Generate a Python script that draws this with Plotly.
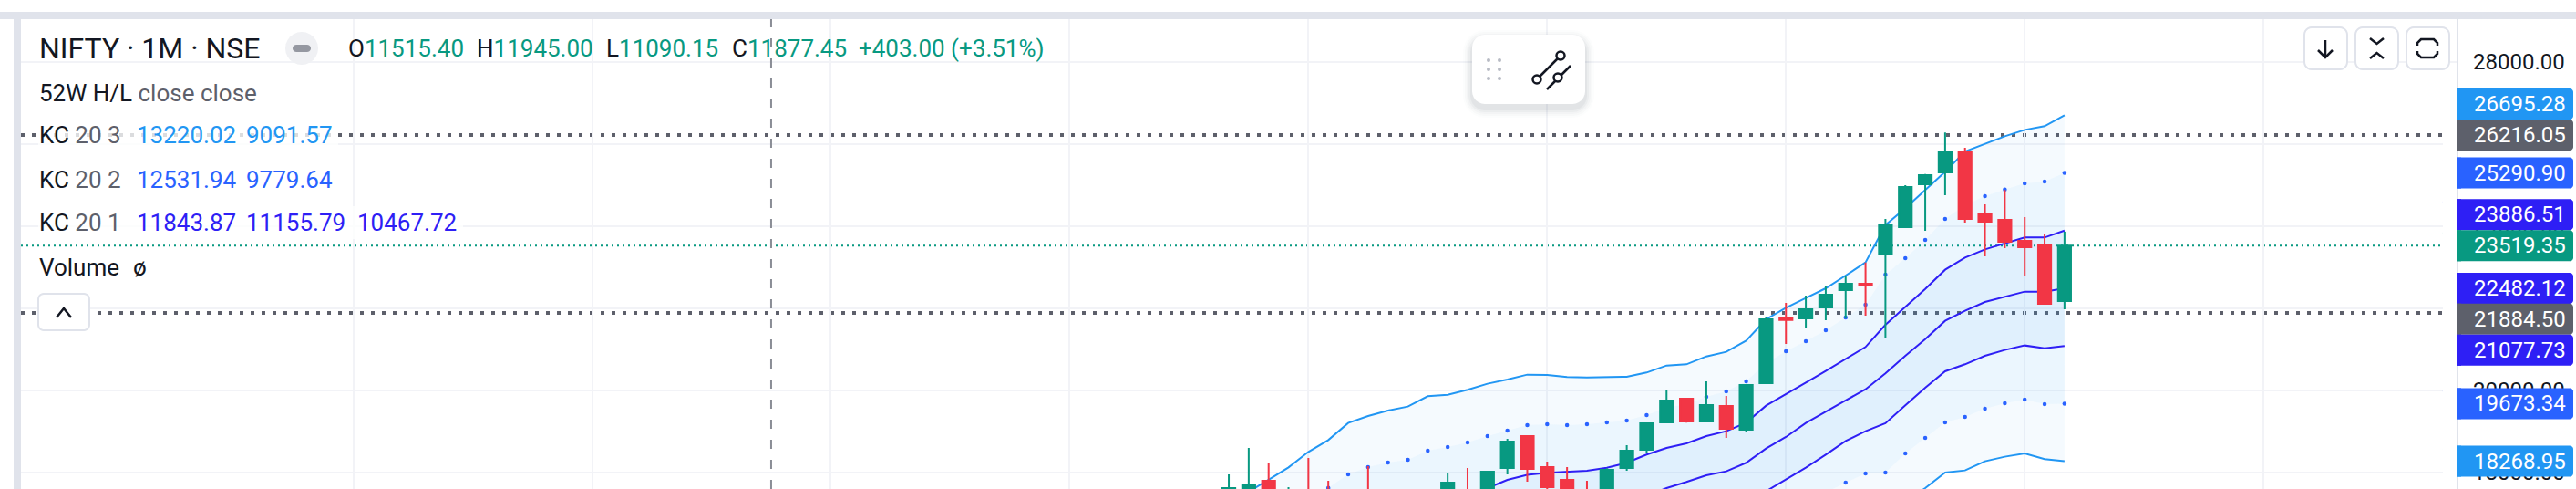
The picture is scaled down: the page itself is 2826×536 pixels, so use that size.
import math
import plotly.graph_objects as go

W, H = 2826, 536

# ---- data (prices) ----
opens = [17300,17400,17794,16900,17500,17400,17300,17500,17000,17100,17450,17200,17500,17400,18105,18883,18127,17816,17400,17500,18105,18549,19216,19794,19238,19616,19038,20171,21749,21749,22016,22438,22593,23305,23971,25015,25304,25793,24304,24149,23638,23527,22171]
highs = [17949,18593,18216,17638,18349,17794,17500,18149,17550,17580,17550,17994,18105,18016,18816,18883,18260,18127,17794,18097,18660,19194,19994,19794,20216,19860,20149,21793,22127,22304,22527,22793,23112,24171,24993,25267,26277,25904,24527,24875,24216,23816,23860]
lows = [17200,17250,17300,16800,17000,16950,16900,17050,16900,17000,17100,17100,17000,17300,17949,17771,17400,17300,17000,17400,18038,18460,19216,19208,19238,18838,18971,20171,21127,21527,21704,21749,21816,21282,23971,23882,24749,24082,23260,23460,22793,22105,21971]
closes = [17615,17683,17400,17200,17200,17100,17100,17250,17400,17450,17200,17749,17200,18016,18749,18083,17638,17500,17100,18060,18527,19194,19749,19238,19638,19060,20127,21727,21712,21971,22327,22593,22556,24016,24949,25238,25816,24171,24104,23616,23482,22105,23519.35]
kc3_upper = [17282,17527,17816,18119,18497,18786,19201,19371,19505,19601,19853,19890,20008,20157,20260,20379,20371,20319,20312,20327,20327,20430,20601,20630,20823,20934,21208,21727,22008,22245,22482,22793,23112,24023,24430,24875,25319,25815,26008,26186,26341,26430,26695.28]
kc2_upper = [16171,16416,16705,17009,17349,17623,17949,18127,18238,18305,18527,18616,18727,18883,19016,19149,19171,19149,19171,19216,19260,19394,19579,19653,19838,19971,20216,20653,20949,21193,21460,21771,22082,22815,23216,23660,24171,24504,24727,24890,25038,25082,25290.90]
kc1_upper = [14912,15134,15394,15690,16023,16320,16616,16764,16875,16949,17120,17208,17394,17616,17816,17935,17986,18008,18038,18112,18231,18431,18594,18705,18883,19001,19208,19623,19897,20186,20468,20764,21053,21593,22023,22467,22934,23230,23430,23579,23719,23719,23886.51]
kc_mid = [13200,13500,13800,14100,14500,14800,15150,15350,15500,15600,15850,16000,16200,16450,16700,16850,16950,17000,17050,17130,17250,17420,17616,17764,17927,18023,18231,18579,18860,19201,19482,19749,20023,20408,20838,21245,21690,21934,22149,22282,22401,22401,22482.12]
kc1_lower = [12450,12750,13050,13400,13750,14050,14350,14550,14700,14850,15050,15200,15400,15700,15950,16100,16180,16220,16250,16300,16400,16550,16640,16820,16970,17040,17250,17542,17816,18112,18431,18764,19001,19194,19630,20060,20460,20631,20838,20979,21090,21023,21077.73]
kc2_lower = [11750,12000,12300,12650,13000,13300,13550,13750,13900,14100,14250,14450,14650,14900,15100,15250,15350,15400,15450,15500,15600,15750,15900,16050,16200,16250,16450,16750,17000,17300,17505,17749,17971,17994,18460,18838,19216,19349,19549,19682,19771,19660,19673.34]
kc3_lower = [10650,10950,11250,11600,11950,12250,12500,12700,12900,13050,13200,13400,13600,13850,14050,14200,14300,14350,14400,14450,14550,14700,14850,15000,15100,15200,15400,15700,15950,16200,16400,16600,16650,16900,17282,17616,17994,18046,18268,18379,18460,18320,18268.95]
candle_index = list(range(len(opens)))

price_ticks = [28000, 26000, 24000, 22000, 20000, 18000]
year_grid = [-44, -32, -20, -8, 4, 16, 28, 40, 52]
crosshair_at = -23
high_52w, low_52w, last_price = 26216.05, 21884.50, 23519.35

label_values = [26695.28, 26216.05, 25290.90, 23886.51, 23519.35, 22482.12, 21884.50, 21077.73, 19673.34, 18268.95]
label_colors = ["#2196f3", "#5d606b", "#2962ff", "#2e1ff5", "#089981", "#2e1ff5", "#5d606b", "#2e1ff5", "#2962ff", "#2196f3"]
label_shift_px = [-12.4, 0, 0, -17.6, 0, 0, 6.8, 4.6, 0, 0]

# ---- layout constants ----
PLOT_L, PLOT_R, PLOT_T = 23, 2696, 21
Y_RANGE = [17593, 29038]
X_RANGE = [-60.7, 61.75]
GREEN, RED = "#089981", "#f23645"
LIGHT, MIDB, DARK = "#2196f3", "#2962ff", "#2e1ff5"
GRID = "#f2f3f7"
BORDER = "#e0e3eb"
INK = "#131722"
MUTED = "#5d606b"
FONT = "Roboto"


def px(x):
    return x / W


def py(y):
    return 1 - y / H


def y_to_px(v):
    return PLOT_T + (Y_RANGE[1] - v) / (Y_RANGE[1] - Y_RANGE[0]) * (H - PLOT_T)


def path(points, close=False):
    s = "M " + " L ".join(f"{px(x):.6f},{py(y):.6f}" for x, y in points)
    return s + (" Z" if close else "")


def rrect(x0, y0, x1, y1, r, steps=6):
    pts = []
    for cx, cy, a0 in [(x1 - r, y0 + r, -90), (x1 - r, y1 - r, 0), (x0 + r, y1 - r, 90), (x0 + r, y0 + r, 180)]:
        for k in range(steps + 1):
            a = math.radians(a0 + 90 * k / steps)
            pts.append((cx + r * math.cos(a), cy + r * math.sin(a)))
    return path(pts, True)


shapes = []


def add_path(d, line=None, width=0, fill=None, layer="above"):
    shapes.append(dict(type="path", xref="paper", yref="paper", path=d, layer=layer,
                       fillcolor=fill if fill else "rgba(0,0,0,0)",
                       line=dict(color=line if line else "rgba(0,0,0,0)", width=width)))


def circle(cx, cy, r, line, width, fill="#ffffff"):
    shapes.append(dict(type="circle", xref="paper", yref="paper", layer="above",
                       x0=px(cx - r), x1=px(cx + r), y0=py(cy + r), y1=py(cy - r),
                       fillcolor=fill, line=dict(color=line, width=width)))


fig = go.Figure()

# band fills and lines, bottom to top
bands = [
    (kc3_lower, None, None, "line", LIGHT),
    (kc2_lower, "rgba(33,150,243,0.045)", "tonexty", "dots", MIDB),
    (kc1_lower, "rgba(33,150,243,0.09)", "tonexty", "line", DARK),
    (kc_mid, "rgba(33,150,243,0.14)", "tonexty", "line", DARK),
    (kc1_upper, "rgba(33,150,243,0.14)", "tonexty", "line", DARK),
    (kc2_upper, "rgba(33,150,243,0.09)", "tonexty", "dots", MIDB),
    (kc3_upper, "rgba(33,150,243,0.045)", "tonexty", "line", LIGHT),
]
for values, fillcolor, fillmode, style, colour in bands:
    kw = dict(x=candle_index, y=values, hoverinfo="skip", showlegend=False, cliponaxis=True)
    if fillmode:
        kw.update(fill=fillmode, fillcolor=fillcolor)
    if style == "line":
        kw.update(mode="lines", line=dict(color=colour, width=2))
    else:
        kw.update(mode="markers", marker=dict(color=colour, size=4.5))
    fig.add_trace(go.Scatter(**kw))

# candles sit on an overlaid copy of the axes so they draw above the bands
fig.add_trace(go.Candlestick(
    x=candle_index, open=opens, high=highs, low=lows, close=closes,
    xaxis="x2", yaxis="y2",
    increasing=dict(line=dict(color=GREEN, width=2), fillcolor=GREEN),
    decreasing=dict(line=dict(color=RED, width=2), fillcolor=RED),
    whiskerwidth=0, hoverinfo="skip", showlegend=False))

# dotted price lines and crosshair, tied to the axes
for value in (high_52w, low_52w):
    shapes.append(dict(type="line", xref="x", yref="y", layer="below", x0=X_RANGE[0], x1=X_RANGE[1], y0=value, y1=value,
                       line=dict(color=MUTED, width=4, dash="4px,8px")))
shapes.append(dict(type="line", xref="x", yref="y", layer="below", x0=X_RANGE[0], x1=X_RANGE[1], y0=last_price, y1=last_price,
                   line=dict(color=GREEN, width=2, dash="2px,4px")))
shapes.append(dict(type="line", xref="x", yref="paper", layer="above", x0=crosshair_at, x1=crosshair_at, y0=0, y1=py(PLOT_T),
                   line=dict(color="#8a8d96", width=2, dash="10px,12px")))

# frame
add_path(path([(0, 13), (W, 13), (W, 21), (0, 21)], True), fill=BORDER)
add_path(path([(15, 21), (23, 21), (23, H), (15, H)], True), fill=BORDER)
add_path(path([(2695, 21), (2697, 21), (2697, H), (2695, H)], True), fill=BORDER)

# price labels on the axis
annotations = []
for value, colour, shift in zip(label_values, label_colors, label_shift_px):
    cy = y_to_px(value) + shift
    add_path(rrect(2680, cy - 17, 2823, cy + 17, 4), fill=colour)
    add_path(path([(2695, cy - 17), (2700, cy - 17), (2700, cy + 17), (2695, cy + 17)], True), fill=colour)
    add_path(path([(2680, cy - 18), (2695, cy - 18), (2695, cy + 18), (2680, cy + 18)], True), fill="#ffffff")
    annotations.append(dict(xref="paper", yref="paper", x=px(2712), y=py(cy), xanchor="left", yanchor="middle",
                            text=f"{value:.2f}", showarrow=False, font=dict(family=FONT, size=24, color="#ffffff")))


def put(x, y, text, size=26, colour=INK):
    annotations.append(dict(xref="paper", yref="paper", x=px(x), y=py(y), xanchor="left", yanchor="middle",
                            text=text, showarrow=False, align="left", borderpad=0,
                            font=dict(family=FONT, size=size, color=colour)))


def backdrop(x0, x1, y):
    add_path(path([(x0, y - 18), (x1, y - 18), (x1, y + 18), (x0, y + 18)], True), fill="rgba(255,255,255,0.78)")


def colored(text, colour):
    return f'<span style="color:{colour}">{text}</span>'


put(42, 53, "NIFTY · 1M · NSE", size=32)
ohlc = [(381, "O", "11515.40"), (522, "H", "11945.00"), (664, "L", "11090.15"), (802, "C", "11877.45")]
for x, k, v in ohlc:
    put(x, 53, k + colored(v, GREEN))
put(941, 53, "+403.00 (+3.51%)", colour=GREEN)

put(42, 102, "52W H/L " + colored("close close", MUTED))

backdrop(42, 371, 148)
put(42, 148, "KC " + colored("20 3", MUTED))
put(149, 148, "13220.02", colour=LIGHT)
put(269, 148, "9091.57", colour=LIGHT)
backdrop(42, 371, 197)
put(42, 197, "KC " + colored("20 2", MUTED))
put(149, 197, "12531.94", colour=MIDB)
put(269, 197, "9779.64", colour=MIDB)
backdrop(42, 508, 244)
put(42, 244, "KC " + colored("20 1", MUTED))
put(149, 244, "11843.87", colour=DARK)
put(269, 244, "11155.79", colour=DARK)
put(391, 244, "10467.72", colour=DARK)
backdrop(42, 170, 293)
put(42, 293, "Volume")
put(145, 293, "ø")

# pill beside the title
add_path(rrect(313, 35, 349, 71, 18), fill="#f0f1f4")
add_path(rrect(321, 49, 341, 57, 4), fill="#9598a1")

# collapse button
add_path(rrect(42, 322, 98, 362, 6), line=BORDER, width=2, fill="#ffffff")
add_path(path([(62, 348), (70, 338), (78, 348)]), line=INK, width=2.5)

# floating tool palette with soft shadow
for grow, alpha in [(10, 0.012), (8, 0.018), (6, 0.025), (4, 0.035), (2, 0.045)]:
    add_path(rrect(1615 - grow, 38 + 5 - grow, 1739 + grow, 114 + 5 + grow, 14 + grow), fill=f"rgba(40,45,70,{alpha})")
add_path(rrect(1615, 38, 1739, 114, 14), fill="#ffffff")
for gx in (1633, 1645):
    for gy in (66, 76, 86):
        circle(gx, gy, 2, "#b8bbc4", 0, fill="#b8bbc4")
add_path(path([(1686, 87), (1712, 61)]), line=INK, width=2.5)
add_path(path([(1697, 98), (1723, 72)]), line=INK, width=2.5)
circle(1686, 87, 4.5, INK, 2.5)
circle(1712, 61, 4.5, INK, 2.5)
circle(1709, 85, 4.5, INK, 2.5)

# top-right buttons
for x0 in (2528, 2584, 2640):
    add_path(rrect(x0, 30, x0 + 47, 76, 8), line=BORDER, width=2, fill="#ffffff")
add_path(path([(2551, 44), (2551, 63)]), line=INK, width=2.5)
add_path(path([(2543, 55), (2551, 63), (2559, 55)]), line=INK, width=2.5)
add_path(path([(2600, 42), (2607.5, 48), (2615, 42)]), line=INK, width=2.5)
add_path(path([(2600, 64), (2607.5, 58), (2615, 64)]), line=INK, width=2.5)
add_path(path([(2652, 50), (2652, 47), (2656, 43), (2670, 43), (2674, 47), (2674, 50)]), line=INK, width=2.5)
add_path(path([(2652, 56), (2652, 59), (2656, 63), (2670, 63), (2674, 59), (2674, 56)]), line=INK, width=2.5)

fig.update_layout(
    width=W, height=H, autosize=False,
    margin=dict(l=0, r=0, t=0, b=0, pad=0),
    paper_bgcolor="#ffffff", plot_bgcolor="#ffffff",
    showlegend=False, dragmode=False, hovermode=False,
    boxgap=0.35, boxgroupgap=0,
    shapes=shapes, annotations=annotations,
    font=dict(family=FONT, size=24, color=INK),
    xaxis=dict(domain=[px(PLOT_L), px(PLOT_R)], range=X_RANGE, showgrid=True, gridcolor=GRID, gridwidth=2,
               tickvals=year_grid, showticklabels=False, ticks="", zeroline=False, showline=False,
               rangeslider=dict(visible=False), fixedrange=True),
    yaxis=dict(domain=[0, py(PLOT_T)], range=Y_RANGE, side="right", showgrid=True, gridcolor=GRID, gridwidth=2,
               tickvals=price_ticks, tickformat=".2f", ticks="", ticklabelstandoff=16,
               tickfont=dict(family=FONT, size=24, color=INK),
               zeroline=False, showline=False, fixedrange=True),
    xaxis2=dict(domain=[px(PLOT_L), px(PLOT_R)], range=X_RANGE, overlaying="x", anchor="y2", visible=False,
                rangeslider=dict(visible=False), fixedrange=True),
    yaxis2=dict(domain=[0, py(PLOT_T)], range=Y_RANGE, overlaying="y", anchor="x2", visible=False, fixedrange=True),
)

fig.write_html("out.html", config=dict(displayModeBar=False, responsive=False),
               post_script="document.body.style.margin='0';document.documentElement.style.overflow='hidden';")
